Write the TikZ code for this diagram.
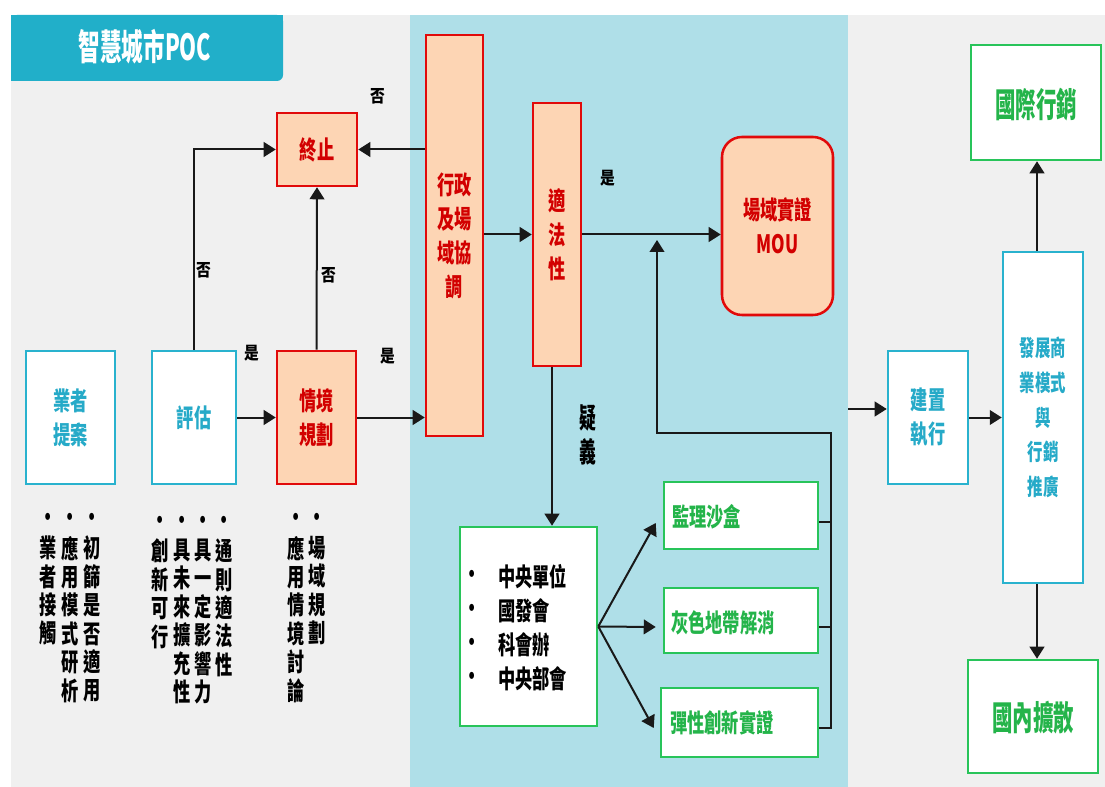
\documentclass[tikz,border=0pt]{standalone}
\usepackage{fontspec}
\usetikzlibrary{arrows.meta,calc}
\newfontfamily\cjk[FakeStretch=0.68]{Noto Sans CJK TC}
\newfontfamily\cjkw[FakeStretch=0.6]{Noto Sans CJK TC}
\newfontfamily\cjkl[FakeStretch=0.85]{Noto Sans CJK TC}
\definecolor{grayc}{RGB}{240,240,240}
\definecolor{bandc}{RGB}{175,223,232}
\definecolor{headc}{RGB}{33,175,201}
\definecolor{bluec}{RGB}{41,178,206}
\definecolor{bluet}{RGB}{38,170,200}
\definecolor{redc}{RGB}{225,10,10}
\definecolor{peach}{RGB}{253,213,180}
\definecolor{redt}{RGB}{210,0,0}
\definecolor{greenc}{RGB}{40,196,90}
\definecolor{greent}{RGB}{36,180,74}
\definecolor{linec}{RGB}{25,25,25}
\begin{document}
\begin{tikzpicture}[x=0.75pt,y=-0.75pt,
  wh/.style 2 args={minimum width={(#1)*0.75pt}, minimum height={(#2)*0.75pt}},
  bx/.style={draw, line width=1.9pt, inner sep=0pt, align=center,
    font=\cjk\bfseries\fontsize{19}{25.5}\selectfont},
  bluebox/.style={bx, draw=bluec, fill=white, text=bluet},
  redbox/.style={bx, draw=redc, fill=peach, text=redt},
  greenbox/.style={bx, draw=greenc, fill=white, text=greent},
  bigtext/.style={font=\cjkw\bfseries\fontsize{25.5}{30}\selectfont, text=greent, inner sep=0pt},
  gtext/.style={anchor=west, inner sep=0pt, text=greent, font=\cjk\bfseries\fontsize{19}{25.5}\selectfont},
  conn/.style={line width=1.5pt, draw=linec, -{Triangle[length=9pt,width=11pt]}},
  plain/.style={line width=1.5pt, draw=linec},
  lab/.style={font=\cjkl\bfseries\fontsize{13}{15}\selectfont, text=black, inner sep=0pt},
  col/.style={anchor=north, align=center, inner sep=0pt, text=black,
    font=\cjk\bfseries\fontsize{19}{21.3}\selectfont},
  listtext/.style={inner sep=0pt, text=black, font=\cjk\bfseries\fontsize{19}{25.5}\selectfont}
]
% background
\fill[white] (0,0) rectangle (1105,787);
\fill[grayc] (11,15) rectangle (1105,787);
\fill[bandc] (410,15) rectangle (848,787);
% header
\fill[headc, rounded corners=4.5pt] (11,15) rectangle (283,81);
\fill[headc] (11,15) rectangle (250,81);
\fill[headc] (11,15) rectangle (283,60);
\node[font=\cjkw\bfseries\fontsize{27}{30}\selectfont, text=white, inner sep=0pt] (title) at (145,47) {智慧城市POC};

% left boxes
\node[bluebox, wh={89}{133}] (prop) at (70.5,417.5) {業者\\提案};
\node[bluebox, wh={84}{133}] (eval) at (194,417.5) {評估};
\node[redbox, wh={79}{133}] (plan) at (316.5,417.5) {情境\\規劃};
\node[redbox, wh={80}{73}] (stop) at (317,149.5) {終止};

% middle band
\node[redbox, wh={57}{401}] (admin) at (454.5,235.5) {行政\\及場\\域協\\調};
\node[redbox, wh={48}{263}] (legal) at (557,234.5) {適\\法\\性};
\node[redbox, rounded corners=15pt, wh={111}{178}] (mou) at (777.5,226) {場域實證\\MOU};
\node[greenbox, wh={137}{199}] (cent) at (528.5,626.5) {};
\node[listtext, align=center] (bul) at (472,628) {•\\•\\•\\•};
\node[listtext, align=left, anchor=west] (centtxt) at (498,628) {中央單位\\國發會\\科會辦\\中央部會};
\node[greenbox, wh={154}{67}] (g1) at (741,515.5) {};
\node[greenbox, wh={154}{65}] (g2) at (741,620.5) {};
\node[greenbox, wh={157}{69}] (g3) at (739.5,722.5) {};
\node[gtext] (g1t) at (672,517) {監理沙盒};
\node[gtext] (g2t) at (671,623) {灰色地帶解消};
\node[gtext] (g3t) at (670,723) {彈性創新實證};

% right side
\node[bluebox, wh={80}{133}] (build) at (928,417.5) {建置\\執行};
\node[bluebox, wh={80}{331}, font=\cjk\bfseries\fontsize{17}{26}\selectfont] (dev) at (1043,417.5) {發展商\\業模式\\與\\行銷\\推廣};
\node[greenbox, wh={130}{115}] (intl) at (1036,102.5) {};
\node[bigtext] (intlt) at (1036,105) {國際行銷};
\node[greenbox, wh={130}{113}] (dom) at (1033,716.5) {};
\node[bigtext] (domt) at (1033,718) {國內擴散};

% vertical notes
\node[col] (c1a) at (92,506) {\strut•\\初\\篩\\是\\否\\適\\用};
\node[col] (c1b) at (70,506) {\strut•\\應\\用\\模\\式\\研\\析};
\node[col] (c1c) at (48,506) {\strut•\\業\\者\\接\\觸};
\node[col] (c2a) at (224,509) {\strut•\\通\\則\\適\\法\\性};
\node[col] (c2b) at (203,509) {\strut•\\具\\一\\定\\影\\響\\力};
\node[col] (c2c) at (182,509) {\strut•\\具\\未\\來\\擴\\充\\性};
\node[col] (c2d) at (160,509) {\strut•\\創\\新\\可\\行};
\node[col] (c3a) at (317,506) {\strut•\\場\\域\\規\\劃};
\node[col] (c3b) at (296,506) {\strut•\\應\\用\\情\\境\\討\\論};

% labels
\node[lab] (n1) at (378,96) {否};
\node[lab] (n2) at (204,270) {否};
\node[lab] (n3) at (329,275) {否};
\node[lab] (y1) at (252,353) {是};
\node[lab] (y2) at (388,356) {是};
\node[lab] (y3) at (608,178) {是};
\node[font=\cjkw\bfseries\fontsize{21}{26}\selectfont, align=center, inner sep=0pt] (doubt) at (588,435) {疑\\義};

% connectors
\coordinate (qx) at (552,0);
\coordinate (upc) at (657,240);
\coordinate (bus) at (831,433);
\coordinate (bandedge) at (848,409);
\coordinate (ax) at (1037,0);
\draw[conn] (eval.east) -- (plan.west);
\draw[conn] (eval.north) |- (stop.west);
\draw[conn] (plan.north) -- (stop.south);
\draw[conn] (admin.west |- stop.west) -- (stop.east);
\draw[conn] (plan.east) -- (admin.west |- plan.east);
\draw[conn] (admin.east |- legal.west) -- (legal.west);
\draw[conn] (legal.east) -- (mou.west |- legal.east);
\draw[conn] (legal.south -| qx) -- (cent.north -| qx);
\draw[conn] (cent.east) -- ($(g1.west)+(-7,7.5)$);
\draw[conn] (cent.east) -- ($(g2.west)+(-7,6.5)$);
\draw[conn] (cent.east) -- ($(g3.west)+(-6,5.5)$);
\draw[plain] ($(g1.east)+(0,6.5)$) -- ($(g1.east)+(13,6.5)$);
\draw[plain] ($(g2.east)+(0,6.5)$) -- ($(g2.east)+(13,6.5)$);
\draw[conn] ($(g3.east)+(0,5.5)$) -| (bus) -| (upc);
\draw[conn] (bandedge) -- (build.west |- bandedge);
\draw[conn] (build.east) -- (dev.west |- build.east);
\draw[conn] (dev.north -| ax) -- (intl.south -| ax);
\draw[conn] (dev.south -| ax) -- (dom.north -| ax);
\end{tikzpicture}
\end{document}
